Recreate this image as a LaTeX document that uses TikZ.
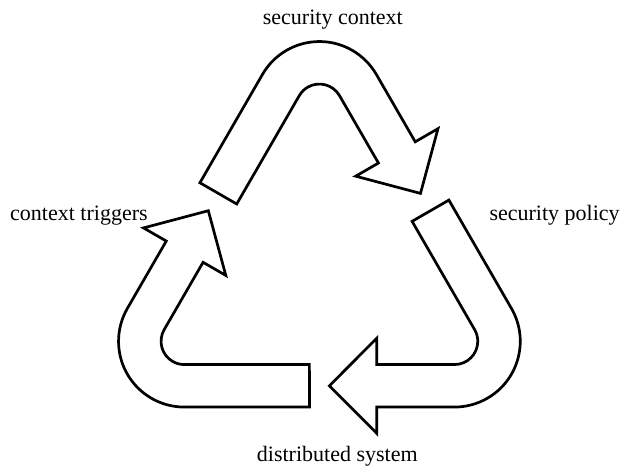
\documentclass[tikz,border=0pt]{standalone}
\usepackage{fontspec}
\setmainfont{Liberation Serif}
\begin{document}
\begin{tikzpicture}[x=1pt,y=1pt,
  band/.style={draw=black,fill=white,line width=2.7pt,line join=miter,miter limit=10},
  lbl/.style={inner sep=0pt,anchor=base west,font=\fontsize{22}{26}\selectfont}]
\useasboundingbox (0,0) rectangle (620,467);
\tikzset{recyclearrow/.pic={
  \path[band] (-119.49,80.535) -- (-56.94,188.87)
    arc[start angle=150,end angle=30,radius=65.75]
    -- (95.84,121.5) -- (118.57,134.62) -- (101.09,69.91)
    -- (36.3,87.12) -- (59.03,100.25) -- (20.13,167.63)
    arc[start angle=30,end angle=150,radius=23.25]
    -- (-82.68,59.29) -- cycle;
}}
\begin{scope}[shift={(319.4,203.7)},yscale=0.958]
  \pic (topArrow) {recyclearrow};
  \pic[rotate=-120] (rightArrow) {recyclearrow};
  \pic[rotate=120] (leftArrow) {recyclearrow};
\end{scope}
\node[lbl] (ctx) at (262.7,442.5) {security context};
\node[lbl] (trig) at (10,247) {context triggers};
\node[lbl] (pol) at (489.3,247) {security policy};
\node[lbl] (sys) at (256.7,6) {distributed system};
\end{tikzpicture}
\end{document}
